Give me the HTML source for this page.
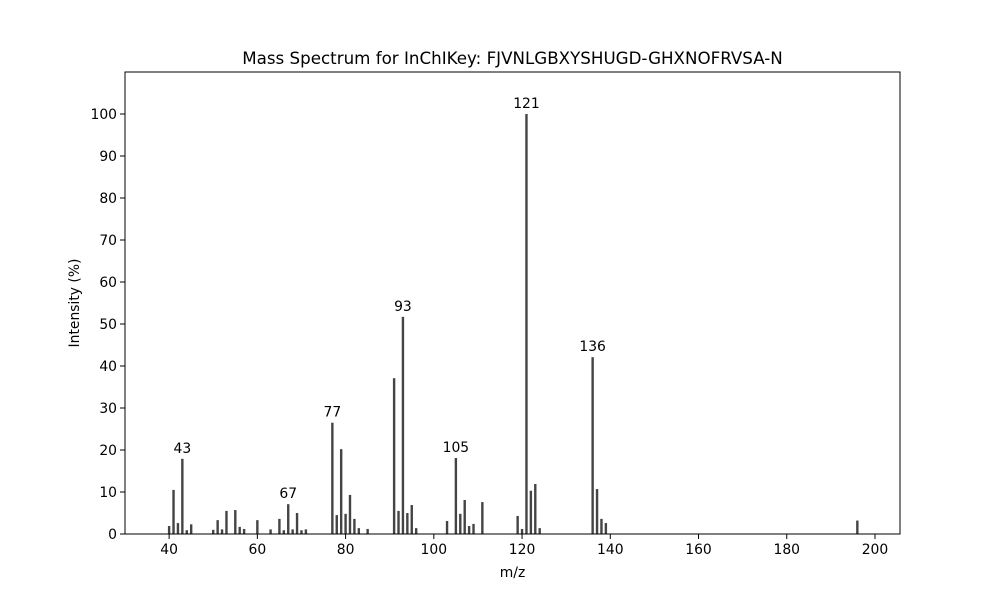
<!DOCTYPE html>
<html><head><meta charset="utf-8"><style>
html,body{margin:0;padding:0;background:#fff;}
svg{display:block;font-family:"DejaVu Sans","Liberation Sans",sans-serif;}
</style></head><body>
<svg id="chart" width="1000" height="600" xmlns="http://www.w3.org/2000/svg">
<rect width="1000" height="600" fill="#fff"/>
<text x="512.5" y="64" text-anchor="middle" font-size="16.7">Mass Spectrum for InChIKey: FJVNLGBXYSHUGD-GHXNOFRVSA-N</text>
<g id="bars"></g>
<g id="labels"></g>
<g id="axes"></g>
<rect x="125" y="72" width="775" height="462" fill="none" stroke="#000" stroke-width="1"/>
<text x="512.5" y="577" text-anchor="middle" font-size="13.9">m/z</text>
<text transform="translate(79,303) rotate(-90)" text-anchor="middle" font-size="13.9">Intensity (%)</text>
</svg>
<script>
const mz = [40,41,42,43,44,45,50,51,52,53,55,56,57,60,63,65,66,67,68,69,70,71,77,78,79,80,81,82,83,85,91,92,93,94,95,96,103,105,106,107,108,109,111,119,120,121,122,123,124,136,137,138,139,196];
const intensity = [1.9,10.5,2.6,17.9,0.9,2.3,1.0,3.3,1.1,5.5,5.7,1.7,1.2,3.3,1.1,3.6,0.9,7.1,1.1,5.0,0.9,1.1,26.5,4.5,20.2,4.8,9.3,3.6,1.4,1.2,37.1,5.5,51.7,5.0,6.9,1.4,3.1,18.1,4.8,8.1,1.9,2.4,7.6,4.3,1.2,100,10.3,11.9,1.4,42.1,10.7,3.6,2.6,3.2];
const labeledPeaks = [43,67,77,93,105,121,136];
const xTicks = [40,60,80,100,120,140,160,180,200];
const yTicks = [0,10,20,30,40,50,60,70,80,90,100];
const NS="http://www.w3.org/2000/svg";
const X0=125,X1=900,Y0=534,Y1=72, XMIN=30, XMAX=205.67, YMIN=0, YMAX=110;
function xs(v){return X0+(v-XMIN)/(XMAX-XMIN)*(X1-X0);}
function ys(v){return Y0-(v-YMIN)/(YMAX-YMIN)*(Y0-Y1);}
function mk(t,a){const e=document.createElementNS(NS,t);for(const k in a)e.setAttribute(k,a[k]);return e;}
const bars=document.getElementById('bars'),labels=document.getElementById('labels'),axes=document.getElementById('axes');
mz.forEach((m,i)=>{
  const r=mk('rect',{x:xs(m)-1.2,y:ys(intensity[i]),width:2.4,height:Y0-ys(intensity[i]),fill:'#444'});
  
  
  bars.appendChild(r);
  if(labeledPeaks.includes(m)){
    const t=mk('text',{x:xs(m),y:ys(intensity[i])-6,'text-anchor':'middle','font-size':'13.9'});
    
    
    t.textContent=String(m);labels.appendChild(t);
  }
});
xTicks.forEach(v=>{
  const l=mk('line',{x1:xs(v),x2:xs(v),y1:Y0,y2:Y0+5,stroke:'#000'});
  
  
  axes.appendChild(l);
  const t=mk('text',{x:xs(v),y:Y0+20,'text-anchor':'middle','font-size':'13.9'});
  
  
  t.textContent=v;axes.appendChild(t);
});
yTicks.forEach(v=>{
  const l=mk('line',{x1:X0-5,x2:X0,y1:ys(v),y2:ys(v),stroke:'#000'});
  
  
  axes.appendChild(l);
  const t=mk('text',{x:X0-8,y:ys(v)+5,'text-anchor':'end','font-size':'13.9'});
  
  
  t.textContent=v;axes.appendChild(t);
});
</script>
</body></html>
